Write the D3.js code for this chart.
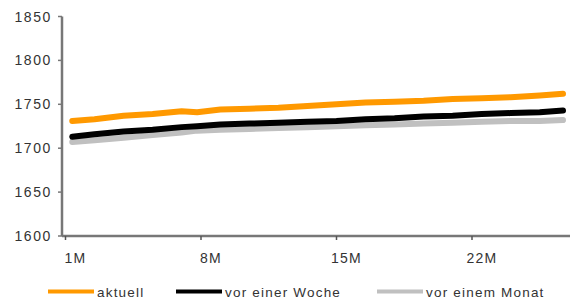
<!DOCTYPE html>
<html>
<head>
<meta charset="utf-8">
<script src="https://cdn.jsdelivr.net/npm/d3@7"></script>
<style>
  body { margin: 0; background: #fff; }
  text { font-family: "Liberation Sans", Arial, sans-serif; fill: #333; }
</style>
</head>
<body>
<svg id="chart" width="579" height="306"></svg>
<script>
// Monatspositionen der Messpunkte
const months = [1.35, 2.5, 4, 5.5, 7, 7.8, 9, 10.5, 12, 13.5, 15, 16.5, 18, 19.5, 21, 22.5, 24, 25.5, 26.7];

// Serien
const aktuell = [1731, 1733, 1737, 1739, 1742, 1741, 1744, 1745, 1746, 1748, 1750, 1752, 1753, 1754, 1756, 1757, 1758, 1760, 1762];
const vorWoche = [1713, 1716, 1719, 1721, 1724, 1725, 1727, 1728, 1729, 1730, 1731, 1733, 1734, 1736, 1737, 1739, 1740, 1741, 1743];
const vorMonat = [1707, 1709, 1712, 1715, 1718, 1720, 1721, 1722, 1723, 1724, 1725, 1726, 1727, 1728, 1729, 1730, 1731, 1731, 1732];

// Achsenbeschriftungen
const xTicks = [1, 8, 15, 22];
const xLabels = ["1M", "8M", "15M", "22M"];
const yTicks = [1600, 1650, 1700, 1750, 1800, 1850];

const seriesNames = ["aktuell", "vor einer Woche", "vor einem Monat"];
const colors = ["#ff9900", "#000000", "#c0c0c0"];

const svg = d3.select("#chart");

const x = d3.scaleLinear().domain([1, 22]).range([65.5, 472]);
const y = d3.scaleLinear().domain([1600, 1850]).range([236, 16.5]);

// y-Achse
svg.append("line")
    .attr("x1", 62).attr("x2", 62)
    .attr("y1", y(1850)).attr("y2", y(1600))
    .style("stroke", "#777").style("stroke-width", 2.5);

yTicks.forEach(t => {
    svg.append("line")
        .attr("x1", 58).attr("x2", 62)
        .attr("y1", y(t)).attr("y2", y(t))
        .style("stroke", "#777").style("stroke-width", 1.5);
    svg.append("text")
        .attr("x", 52).attr("y", y(t) + 5)
        .attr("text-anchor", "end")
        .style("font-size", "14px")
        .style("letter-spacing", "1.6px")
        .text(t);
});

// Linien
const line = d3.line()
    .x((d, i) => x(months[i]))
    .y(d => y(d));

[vorMonat, vorWoche, aktuell].forEach((s, k) => {
    svg.append("path")
        .datum(s)
        .attr("d", line)
        .style("fill", "none")
        .style("stroke", colors[2 - k])
        .style("stroke-width", 6)
        .style("stroke-linecap", "round")
        .style("stroke-linejoin", "round");
});

// x-Achse
svg.append("line")
    .attr("x1", 62).attr("x2", 570)
    .attr("y1", 236).attr("y2", 236)
    .style("stroke", "#777").style("stroke-width", 2.5);

xTicks.forEach((t, i) => {
    svg.append("line")
        .attr("x1", x(t)).attr("x2", x(t))
        .attr("y1", 236).attr("y2", 240)
        .style("stroke", "#555").style("stroke-width", 1.5);
    svg.append("text")
        .attr("x", x(t) + 10).attr("y", 263)
        .attr("text-anchor", "middle")
        .style("font-size", "14px")
        .style("letter-spacing", "1.2px")
        .text(xLabels[i]);
});

// Legende
const legendX = [48, 176, 377];
seriesNames.forEach((name, i) => {
    svg.append("line")
        .attr("x1", legendX[i]).attr("x2", legendX[i] + 46)
        .attr("y1", 291.5).attr("y2", 291.5)
        .style("stroke", colors[i]).style("stroke-width", 4);
    svg.append("text")
        .attr("x", legendX[i] + 49).attr("y", 296.5)
        .style("font-size", "13.5px")
        .style("letter-spacing", "1.2px")
        .text(name);
});
</script>
</body>
</html>
